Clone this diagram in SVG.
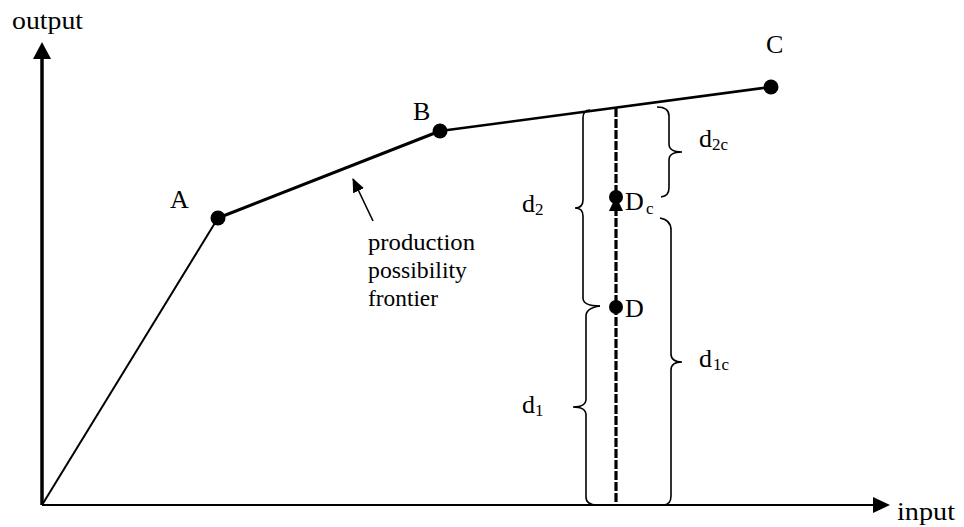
<svg xmlns="http://www.w3.org/2000/svg" width="964" height="527" viewBox="0 0 964 527">
<style>
  .t { font-family: "Liberation Serif", "Times New Roman", serif; fill: #000; }
  .lbl { font-size: 26px; }
  .cap { font-size: 26px; }
  .sub { font-size: 17px; }
  .ppf { font-size: 24px; }
  .brace { fill: none; stroke: #000; stroke-width: 1.6; }
  .dot { fill: #000; }
</style>
<defs>
  <marker id="ah" markerWidth="14" markerHeight="12" refX="13" refY="6" orient="auto" markerUnits="userSpaceOnUse">
    <path d="M0,0 L14,6 L0,12 Z" fill="#000"/>
  </marker>
</defs>
<rect width="964" height="527" fill="#fff"/>

<g id="connectors">
  <line x1="42" y1="505" x2="42" y2="58" stroke="#000" stroke-width="3.5"/>
  <path d="M42,42 L33,59 L51,59 Z" fill="#000"/>
  <line x1="42" y1="505" x2="874" y2="505" stroke="#000" stroke-width="1.8"/>
  <path d="M890,505 L873,497 L873,513 Z" fill="#000"/>
  <line x1="42" y1="505" x2="218" y2="218" stroke="#000" stroke-width="2"/>
  <line x1="218" y1="218" x2="440" y2="131" stroke="#000" stroke-width="3"/>
  <line x1="440" y1="131" x2="771" y2="87" stroke="#000" stroke-width="2.6"/>
  <line x1="373" y1="221" x2="353" y2="179" stroke="#000" stroke-width="1.6" marker-end="url(#ah)"/>
  <line x1="616" y1="108" x2="616" y2="505" stroke="#000" stroke-width="3.2" stroke-dasharray="9,2"/>
  <path class="brace" d="M590,110 Q583,110 583,118 L583,200 Q583,208 575,208 Q583,208 583,216 L583,298 Q583,306 600,306"/>
  <path class="brace" d="M600,306 Q586,308 586,316 L586,399 Q586,407 573,407 Q586,407 586,415 L586,497 Q586,505 597,505"/>
  <path class="brace" d="M657,107 Q669,107 669,116 L669,144 Q669,152 682,152 Q669,152 669,160 L669,188 Q669,196 661,197"/>
  <path class="brace" d="M660,218 Q671,220 671,230 L671,354 Q671,362 682,362 Q671,362 671,370 L671,496 Q671,505 663,505"/>
</g>

<g id="axis-labels">
  <text class="t lbl" x="12" y="29" textLength="71" lengthAdjust="spacingAndGlyphs">output</text>
  <text class="t lbl" x="897" y="520" textLength="58" lengthAdjust="spacingAndGlyphs">input</text>
</g>

<g id="node-A">
  <circle class="dot" cx="218" cy="218" r="7.5"/>
  <text class="t cap" x="170" y="208">A</text>
</g>
<g id="node-B">
  <circle class="dot" cx="440" cy="131" r="7.5"/>
  <text class="t cap" x="413" y="120">B</text>
</g>
<g id="node-C">
  <circle class="dot" cx="771" cy="87" r="7.5"/>
  <text class="t cap" x="766" y="53">C</text>
</g>
<g id="node-Dc">
  <path d="M616,196 L609,211 L623,211 Z" fill="#000"/>
  <circle class="dot" cx="616" cy="197" r="7"/>
  <text class="t cap" x="625" y="210">D</text>
  <text class="t sub" x="646" y="214">c</text>
</g>
<g id="node-D">
  <circle class="dot" cx="616" cy="307" r="7"/>
  <text class="t cap" x="625" y="317">D</text>
</g>

<g id="label-ppf">
  <text class="t ppf" x="368" y="250" textLength="107" lengthAdjust="spacingAndGlyphs">production</text>
  <text class="t ppf" x="368" y="278" textLength="99" lengthAdjust="spacingAndGlyphs">possibility</text>
  <text class="t ppf" x="368" y="306" textLength="70" lengthAdjust="spacingAndGlyphs">frontier</text>
</g>

<g id="label-d2c">
  <text class="t lbl" x="699" y="147">d</text>
  <text class="t sub" x="712" y="150">2c</text>
</g>
<g id="label-d1c">
  <text class="t lbl" x="699" y="367">d</text>
  <text class="t sub" x="713" y="370">1c</text>
</g>
<g id="label-d2">
  <text class="t lbl" x="522" y="212">d</text>
  <text class="t sub" x="535" y="215">2</text>
</g>
<g id="label-d1">
  <text class="t lbl" x="522" y="413">d</text>
  <text class="t sub" x="535" y="416">1</text>
</g>
</svg>
